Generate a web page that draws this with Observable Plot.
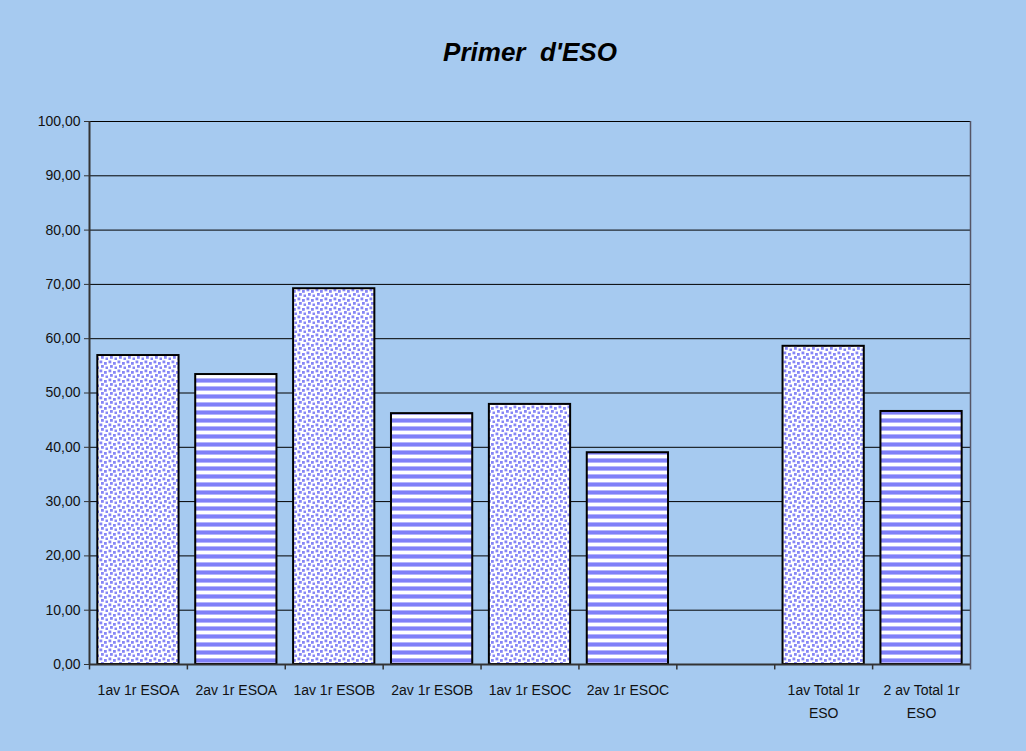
<!DOCTYPE html>
<html>
<head>
<meta charset="utf-8">
<script src="https://cdn.jsdelivr.net/npm/d3@7"></script>
<script src="https://cdn.jsdelivr.net/npm/@observablehq/plot@0.6"></script>
<style>
  html, body { margin: 0; padding: 0; background: #a6caf0; }
  #chart { width: 1026px; height: 751px; background: #a6caf0; position: relative; overflow: hidden; }
  #title { height: 90px; box-sizing: border-box; padding-top: 39px; padding-left: 34px; text-align: center;
    font-family: "Liberation Sans", Arial, sans-serif; font-weight: bold; font-style: italic; font-size: 26px;
    color: #000; white-space: pre; line-height: 1; }
  #chart svg { display: block; }
</style>
</head>
<body>
<div id="chart"><div id="title">Primer  d'ESO</div></div>
<script>
// ---- data ----
const categories = ["1av 1r ESOA", "2av 1r ESOA", "1av 1r ESOB", "2av 1r ESOB", "1av 1r ESOC", "2av 1r ESOC", "", "1av Total 1r ESO", "2 av Total 1r ESO"];
const categoryLabels = ["1av 1r ESOA", "2av 1r ESOA", "1av 1r ESOB", "2av 1r ESOB", "1av 1r ESOC", "2av 1r ESOC", "", "1av Total 1r\nESO", "2 av Total 1r\nESO"];
const series = ["1av", "2av", "1av", "2av", "1av", "2av", null, "1av", "2av"];
const values = [56.9, 53.4, 69.2, 46.2, 47.9, 39.0, null, 58.6, 46.6];
const yTicks = [0, 10, 20, 30, 40, 50, 60, 70, 80, 90, 100];

const rows = categories.map((c, i) => ({category: c, label: categoryLabels[i], series: series[i], value: values[i]}));
const bars = rows.filter(d => d.value != null);

// ---- layout ----
const W = 1026, H = 661;
const mL = 89, mR = 56, mT = 31, mB = 87;
const step = (W - mL - mR) / categories.length;
const font = "Liberation Sans, Arial, sans-serif";

const plot = Plot.plot({
  width: W, height: H,
  marginLeft: mL, marginRight: mR, marginTop: mT, marginBottom: mB,
  style: {background: "transparent", fontFamily: font, fontSize: "14px", color: "#111", overflow: "visible"},
  x: {domain: categories, paddingInner: 0.17, paddingOuter: 0.085, round: false, axis: null},
  y: {domain: [0, 100], axis: null},
  marks: [
    Plot.gridY(yTicks, {stroke: "#000", strokeOpacity: 1, strokeWidth: 1}),
    Plot.barY(bars.filter(d => d.series === "1av"), {x: "category", y: "value", fill: "url(#dots)", stroke: "#000", strokeWidth: 2}),
    Plot.barY(bars.filter(d => d.series === "2av"), {x: "category", y: "value", fill: "url(#stripes)", stroke: "#000", strokeWidth: 2}),
    Plot.ruleY([0], {stroke: "#333", strokeWidth: 2}),
    Plot.ruleX(categories.slice(0, 1), {x: d => d, dx: -step / 2, y1: 0, y2: 100, stroke: "#333", strokeWidth: 2}),
    Plot.axisY(yTicks, {tickSize: 5, tickPadding: 4, tickFormat: d => d.toFixed(2).replace(".", ","), fontSize: 14, stroke: "#333", fill: "#111", label: null}),
    Plot.ruleX(categories, {x: d => d, dx: -step / 2, y1: 0, y2: -1, stroke: "#333", strokeWidth: 1.5}),
    Plot.ruleX(categories.slice(-1), {x: d => d, dx: step / 2, y1: -1, y2: 100, stroke: "#556", strokeWidth: 1.5}),
    Plot.text(rows, {x: "category", text: "label", frameAnchor: "bottom", dy: 15, lineAnchor: "top", lineHeight: 1.6, fontSize: 14, fill: "#111"})
  ]
});

// ---- fill patterns ----
const NS = "http://www.w3.org/2000/svg";
function el(name, attrs, parent) {
  const e = document.createElementNS(NS, name);
  for (const k in attrs) e.setAttribute(k, attrs[k]);
  if (parent) parent.appendChild(e);
  return e;
}
const defs = el("defs", {});
const dots = el("pattern", {id: "dots", width: 9, height: 9, patternUnits: "userSpaceOnUse"}, defs);
el("rect", {width: 9, height: 9, fill: "#ffffff"}, dots);
[[0.5, 0.5], [5, 2], [2, 5], [6.5, 6.5]].forEach(([x, y]) => {
  el("rect", {x, y, width: 2.8, height: 2.8, fill: "#8686f6"}, dots);
});
const stripes = el("pattern", {id: "stripes", width: 8, height: 8, patternUnits: "userSpaceOnUse"}, defs);
el("rect", {width: 8, height: 8, fill: "#ffffff"}, stripes);
el("rect", {x: 0, y: 0, width: 8, height: 1, fill: "#b4b4fc"}, stripes);
el("rect", {x: 0, y: 1, width: 8, height: 3, fill: "#8080f8"}, stripes);
el("rect", {x: 0, y: 4, width: 8, height: 1, fill: "#b4b4fc"}, stripes);
plot.insertBefore(defs, plot.firstChild);

document.getElementById("chart").appendChild(plot);
</script>
</body>
</html>
